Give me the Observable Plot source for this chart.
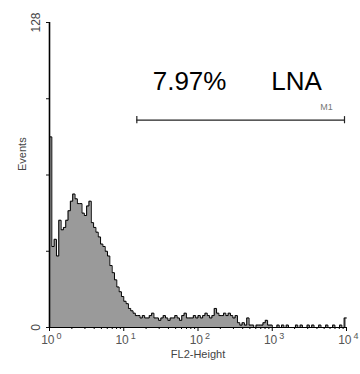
<!DOCTYPE html>
<html><head><meta charset="utf-8">
<script src="https://cdn.jsdelivr.net/npm/d3@7"></script>
<script src="https://cdn.jsdelivr.net/npm/@observablehq/plot@0.6"></script>
<style>
html,body{margin:0;padding:0;background:#fff;}
svg{font-family:"Liberation Sans",Arial,sans-serif;}
</style>
</head><body><div id="chart"></div>
<script>
// histogram counts, 128 log-spaced channels over 10^0..10^4 (32 per decade)
const counts = [
 80,34,37,30,45,41,42,45,49,53,56,54,52,52,48,47,
 51,53,44,42,40,38,35,34,32,30,26,23,20,17,15,13,
 11,10,8,7,6,5,5,4,5,4,4,5,6,4,4,3,
 4,5,4,3,4,4,5,4,3,5,6,4,4,4,5,4,
 5,4,5,6,5,4,5,8,6,5,5,6,5,6,5,4,
 5,2,1,2,1,4,1,1,0,1,1,1,2,3,1,1,
 0,0,1,0,1,0,1,0,0,0,1,0,1,0,0,1,
 0,1,0,0,1,0,0,1,0,0,1,0,0,1,0,4
];
const channelsPerDecade = 32;
const xMajorTicks = [1, 10, 100, 1000, 10000];
const xTickBase = "10";
const xTickExponents = ["0", "1", "2", "3", "4"];
const yTicks = [0, 32, 64, 96, 128];
const yTickLabels = ["0", "", "", "", "128"];
const gateRange = [15, 9400];
const gateLevel = 87;
const gateName = "M1";
const annotations = ["7.97%", "LNA"];
const annotationX = [77, 2120];
const annotationLevel = 103;
const xLabel = "FL2-Height";
const yLabel = "Events";

const steps = counts.map((c, i) => ({x: Math.pow(10, i / channelsPerDecade), y: c}));
steps.push({x: 10000, y: counts[counts.length - 1]});
const minorTicks = [];
for (let d = 1; d < 10000; d *= 10) for (let k = 2; k <= 9; k++) minorTicks.push(d * k);
const tickLabelData = xMajorTicks.map((v, i) => ({v, e: xTickExponents[i]}));

const chart = Plot.plot({
  width: 360, height: 374,
  marginLeft: 49, marginRight: 14, marginTop: 22, marginBottom: 47,
  x: {type: "log", domain: [1, 10000], axis: null},
  y: {domain: [0, 128], axis: null},
  style: {fontFamily: "Liberation Sans, Arial, sans-serif", color: "#111"},
  marks: [
    Plot.areaY(steps, {x: "x", y: "y", curve: "step-after", fill: "#9a9a9a"}),
    Plot.lineY(steps, {x: "x", y: "y", curve: "step-after", stroke: "#000", strokeWidth: 1}),
    Plot.ruleY([0], {stroke: "#000", strokeWidth: 1.2}),
    Plot.ruleX([1], {y1: 0, y2: 128, stroke: "#000", strokeWidth: 1.6}),
    Plot.axisX({ticks: minorTicks, tickSize: 2, tickFormat: () => "", label: null, stroke: "#000"}),
    Plot.axisX({ticks: xMajorTicks, tickSize: 4, tickFormat: () => "", label: null, stroke: "#000"}),
    Plot.text(tickLabelData, {x: "v", y: () => 0, text: () => xTickBase, textAnchor: "end",
      dx: 5, dy: 13, fontSize: 12, fill: "#555"}),
    Plot.text(tickLabelData, {x: "v", y: () => 0, text: "e", textAnchor: "start",
      dx: 7, dy: 9, fontSize: 9, fill: "#555"}),
    Plot.axisY({ticks: yTicks, tickSize: 3, tickFormat: () => "", label: null}),
    Plot.text(yTicks.map((v, i) => ({v, t: yTickLabels[i]})).filter(d => d.t), {
      x: () => 1, y: "v", text: "t", rotate: -90, dx: -13, fontSize: 12, fill: "#444"}),
    Plot.text([yLabel], {frameAnchor: "left", dx: -27, dy: -4, rotate: -90, fontSize: 11, fill: "#444"}),
    Plot.text([xLabel], {frameAnchor: "bottom", dy: 30, fontSize: 11, fill: "#444"}),
    Plot.ruleY([gateLevel], {x1: gateRange[0], x2: gateRange[1], stroke: "#222", strokeWidth: 1.2}),
    Plot.ruleX(gateRange, {y1: gateLevel - 1.5, y2: gateLevel + 1.5, stroke: "#222", strokeWidth: 1.2}),
    Plot.text([gateName], {x: () => gateRange[1], y: () => gateLevel, dx: -18, dy: -13, fontSize: 9, fill: "#777"}),
    Plot.text(annotations, {x: (d, i) => annotationX[i], y: () => annotationLevel, fontSize: 26, fill: "#000"})
  ]
});
document.getElementById("chart").appendChild(chart);
</script>
</body></html>
